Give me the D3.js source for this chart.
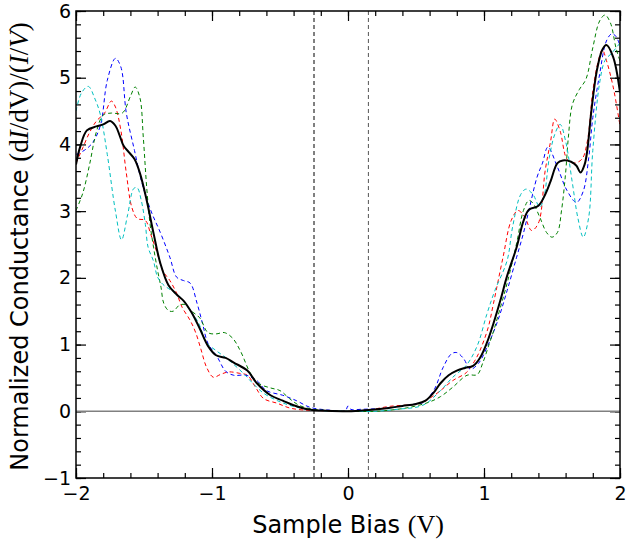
<!DOCTYPE html>
<html>
<head>
<meta charset="utf-8">
<script src="https://d3js.org/d3.v7.min.js"></script>
<style>
  body { margin: 0; background: #fff; }
  svg { display: block; }
</style>
</head>
<body>
<div id="chart"></div>
<script>
// ===========================================
// Data: [sample bias (V), normalized conductance]
var avgCurve = [[-2.0,3.70],[-1.97,3.96],[-1.92,4.21],[-1.85,4.27],[-1.80,4.30],[-1.75,4.35],[-1.71,4.28],[-1.68,4.14],
  [-1.65,3.98],[-1.61,3.88],[-1.57,3.78],[-1.53,3.57],[-1.48,3.16],[-1.43,2.67],[-1.38,2.22],[-1.32,1.89],[-1.26,1.75],[-1.21,1.66],[-1.15,1.48],
  [-1.09,1.24],[-1.03,0.98],[-0.97,0.84],[-0.90,0.80],[-0.84,0.73],[-0.74,0.61],[-0.67,0.42],[-0.57,0.24],[-0.48,0.16],
  [-0.40,0.09],[-0.30,0.03],[-0.20,0.01],[0.0,0.0],[0.15,0.02],[0.30,0.05],[0.40,0.08],[0.50,0.11],[0.57,0.16],[0.63,0.28],
  [0.68,0.42],[0.74,0.54],[0.80,0.61],[0.86,0.65],[0.92,0.68],[0.97,0.80],[1.02,1.02],[1.07,1.32],[1.12,1.66],[1.17,2.03],
  [1.24,2.46],[1.29,2.85],[1.33,3.02],[1.40,3.08],[1.45,3.25],[1.49,3.45],[1.54,3.72],[1.58,3.76],[1.64,3.74],[1.68,3.68],
  [1.71,3.58],[1.74,3.70],[1.76,3.92],[1.79,4.51],[1.83,5.11],[1.87,5.42],[1.90,5.49],[1.95,5.31],[2.0,4.78]];

var redCurve = [[-2.0,3.72],[-1.95,3.95],[-1.90,4.18],[-1.85,4.35],[-1.79,4.47],[-1.74,4.65],[-1.71,4.56],[-1.67,4.21],
  [-1.63,3.57],[-1.59,3.06],[-1.55,2.89],[-1.49,2.86],[-1.45,2.65],[-1.40,2.35],[-1.36,2.10],[-1.31,1.96],[-1.26,1.77],
  [-1.22,1.56],[-1.16,1.36],[-1.12,1.18],[-1.08,0.92],[-1.04,0.66],[-0.99,0.51],[-0.94,0.55],[-0.88,0.59],[-0.80,0.57],
  [-0.74,0.54],[-0.68,0.36],[-0.62,0.19],[-0.52,0.12],[-0.43,0.05],[-0.33,0.02],[-0.20,0.01],[0.0,0.0],[0.15,0.02],
  [0.31,0.075],[0.53,0.12],[0.62,0.22],[0.68,0.31],[0.77,0.46],[0.87,0.58],[0.93,0.75],[0.97,0.91],[1.03,1.25],[1.07,1.62],
  [1.14,2.31],[1.20,2.86],[1.25,3.01],[1.30,2.91],[1.35,2.71],[1.40,2.82],[1.45,3.61],[1.49,4.05],[1.52,4.38],[1.56,4.20],
  [1.61,3.78],[1.66,3.72],[1.72,3.78],[1.76,4.05],[1.80,4.80],[1.84,5.25],[1.87,5.42],[1.90,5.26],[1.95,4.86],[2.0,4.28]];

var blueCurve = [[-2.0,3.85],[-1.94,3.91],[-1.88,4.02],[-1.82,4.29],[-1.77,4.96],[-1.71,5.29],[-1.67,5.16],[-1.63,4.47],
  [-1.57,3.91],[-1.52,3.46],[-1.45,3.01],[-1.38,2.68],[-1.31,2.31],[-1.26,2.01],[-1.21,1.96],[-1.16,1.92],[-1.11,1.62],
  [-1.07,1.32],[-1.03,1.02],[-0.96,0.81],[-0.90,0.60],[-0.84,0.54],[-0.75,0.54],[-0.67,0.46],[-0.60,0.31],[-0.48,0.24],
  [-0.38,0.16],[-0.28,0.06],[-0.15,0.02],[-0.02,0.01],[0.0,0.08],[0.02,0.03],[0.10,0.03],[0.30,0.05],[0.50,0.11],
  [0.55,0.13],[0.63,0.31],[0.70,0.66],[0.76,0.86],[0.80,0.88],[0.85,0.79],[0.90,0.63],[0.96,0.72],[1.02,0.95],[1.10,1.35],
  [1.17,1.81],[1.24,2.31],[1.29,2.67],[1.33,3.01],[1.39,3.51],[1.43,3.72],[1.47,3.96],[1.54,3.66],[1.61,3.31],[1.68,3.13],
  [1.73,3.30],[1.77,3.80],[1.80,4.40],[1.85,5.05],[1.90,5.55],[1.94,5.66],[1.97,5.62],[2.0,5.48]];

var greenCurve = [[-2.0,3.01],[-1.95,3.27],[-1.90,3.70],[-1.85,4.19],[-1.80,4.44],[-1.74,4.47],[-1.66,4.47],[-1.60,4.72],
  [-1.565,4.86],[-1.53,4.70],[-1.505,4.10],[-1.48,3.35],[-1.455,2.80],[-1.43,2.46],[-1.40,2.11],[-1.375,1.86],[-1.355,1.62],
  [-1.32,1.51],[-1.285,1.50],[-1.24,1.59],[-1.20,1.60],[-1.15,1.50],[-1.09,1.40],[-1.03,1.18],[-0.97,1.16],[-0.91,1.18],
  [-0.85,1.10],[-0.79,0.90],[-0.72,0.58],[-0.66,0.42],[-0.57,0.35],[-0.50,0.31],[-0.43,0.19],[-0.36,0.09],[-0.28,0.04],
  [-0.15,0.01],[0.0,0.0],[0.20,0.0],[0.40,0.04],[0.52,0.09],[0.60,0.14],[0.68,0.22],[0.77,0.36],[0.875,0.54],[0.95,0.55],
  [0.99,0.72],[1.04,1.02],[1.07,1.20],[1.10,1.41],[1.17,1.92],[1.24,2.52],[1.29,3.01],[1.33,3.16],[1.36,3.12],[1.41,2.91],
  [1.46,2.68],[1.50,2.61],[1.54,2.68],[1.57,3.01],[1.60,3.57],[1.62,4.10],[1.65,4.60],[1.70,4.82],[1.75,4.98],[1.80,5.45],
  [1.85,5.85],[1.89,5.94],[1.93,5.82],[1.97,5.45],[2.0,5.25]];

var cyanCurve = [[-2.0,4.50],[-1.96,4.77],[-1.91,4.87],[-1.86,4.68],[-1.82,4.44],[-1.77,3.85],[-1.71,3.00],[-1.665,2.57],
  [-1.62,2.95],[-1.575,3.34],[-1.55,3.35],[-1.52,3.16],[-1.49,2.80],[-1.47,2.46],[-1.43,2.25],[-1.40,2.01],[-1.36,1.90],
  [-1.32,1.84],[-1.26,1.76],[-1.21,1.66],[-1.16,1.51],[-1.10,1.33],[-1.04,1.03],[-0.97,0.91],[-0.89,0.79],[-0.77,0.57],
  [-0.70,0.42],[-0.62,0.27],[-0.52,0.16],[-0.43,0.09],[-0.33,0.04],[-0.20,0.01],[0.0,0.0],[0.20,0.0],[0.36,0.03],
  [0.55,0.09],[0.68,0.31],[0.77,0.51],[0.87,0.69],[0.95,0.98],[1.02,1.45],[1.08,1.81],[1.17,2.26],[1.21,2.76],[1.27,3.25],
  [1.31,3.33],[1.36,3.25],[1.41,3.06],[1.44,3.20],[1.48,3.80],[1.52,4.15],[1.56,4.30],[1.60,4.05],[1.65,3.42],[1.69,2.90],
  [1.73,2.61],[1.77,2.91],[1.80,3.91],[1.85,4.92],[1.89,5.26],[1.94,5.37],[2.0,5.52]];

var gapMarks = [-0.25, 0.15];          // vertical dashed lines (V)
var xTicks = [-2, -1, 0, 1, 2];
var yTicks = [-1, 0, 1, 2, 3, 4, 5, 6];

// ===========================================
// SVG & chart area
var svgWidth = 626, svgHeight = 545;
var margin = {top: 11, right: 6, bottom: 67, left: 76};
var chartWidth = svgWidth - margin.left - margin.right;
var chartHeight = svgHeight - margin.top - margin.bottom;

var svg = d3.select("#chart").append("svg")
    .attr("width", svgWidth)
    .attr("height", svgHeight);

var chartGroup = svg.append("g")
    .attr("transform", `translate(${margin.left},${margin.top})`);

var xscale = d3.scaleLinear().domain([-2, 2]).range([0, chartWidth]);
var yscale = d3.scaleLinear().domain([-1, 6]).range([chartHeight, 0]);

svg.append("defs").append("clipPath").attr("id", "clip")
  .append("rect").attr("width", chartWidth).attr("height", chartHeight);

var fmt = d => (d < 0 ? "\u2212" + Math.abs(d) : String(d));
var minorX = d3.range(-2, 2.001, 0.2).map(d => +d.toFixed(2));
var minorY = d3.range(-1, 6.001, 0.2).map(d => +d.toFixed(2));

function styleAxis(g) {
  g.select(".domain").remove();
  g.selectAll("line").attr("stroke", "#000").attr("stroke-width", 1.2);
  g.selectAll("text").attr("font-family", "DejaVu Sans").attr("font-size", "19px").attr("fill", "#000");
}

// minor ticks on all sides
chartGroup.append("g").attr("transform", `translate(0,${chartHeight})`)
  .call(d3.axisBottom(xscale).tickValues(minorX).tickSize(-5).tickFormat("")).call(styleAxis);
chartGroup.append("g")
  .call(d3.axisTop(xscale).tickValues(minorX).tickSize(-5).tickFormat("")).call(styleAxis);
chartGroup.append("g")
  .call(d3.axisLeft(yscale).tickValues(minorY).tickSize(-5).tickFormat("")).call(styleAxis);
chartGroup.append("g").attr("transform", `translate(${chartWidth},0)`)
  .call(d3.axisRight(yscale).tickValues(minorY).tickSize(-5).tickFormat("")).call(styleAxis);

// major ticks
chartGroup.append("g").attr("transform", `translate(0,${chartHeight})`)
  .call(d3.axisBottom(xscale).tickValues(xTicks).tickSize(-10).tickPadding(9).tickFormat(fmt)).call(styleAxis);
chartGroup.append("g")
  .call(d3.axisTop(xscale).tickValues(xTicks).tickSize(-10).tickFormat("")).call(styleAxis);
chartGroup.append("g")
  .call(d3.axisLeft(yscale).tickValues(yTicks).tickSize(-10).tickPadding(5).tickFormat(fmt)).call(styleAxis);
chartGroup.append("g").attr("transform", `translate(${chartWidth},0)`)
  .call(d3.axisRight(yscale).tickValues(yTicks).tickSize(-10).tickFormat("")).call(styleAxis);

// zero line
chartGroup.append("line")
  .attr("x1", 0).attr("x2", chartWidth)
  .attr("y1", yscale(0)).attr("y2", yscale(0))
  .attr("stroke", "#808080").attr("stroke-width", 1.5);

// dashed gap markers
chartGroup.selectAll(".gap").data(gapMarks).enter().append("line")
  .attr("class", "gap")
  .attr("x1", d => xscale(d)).attr("x2", d => xscale(d))
  .attr("y1", 0).attr("y2", chartHeight)
  .attr("stroke", (d, i) => i === 0 ? "#000" : "#555")
  .attr("stroke-width", 1)
  .attr("stroke-dasharray", "4,3");

// curves
var line = d3.line()
  .x(d => xscale(d[0]))
  .y(d => yscale(d[1]))
  .curve(d3.curveCatmullRom.alpha(0.5));

var dashed = [
  {data: redCurve, color: "#ff0000"},
  {data: blueCurve, color: "#0000ff"},
  {data: greenCurve, color: "#008000"},
  {data: cyanCurve, color: "#00bfbf"}
];

var curves = chartGroup.append("g").attr("clip-path", "url(#clip)");
dashed.forEach(function(s) {
  curves.append("path")
    .attr("d", line(s.data))
    .attr("fill", "none")
    .attr("stroke", s.color)
    .attr("stroke-width", 1)
    .attr("stroke-dasharray", "4,3");
});
curves.append("path")
  .attr("d", line(avgCurve))
  .attr("fill", "none")
  .attr("stroke", "#000")
  .attr("stroke-width", 2);

// frame
chartGroup.append("rect")
  .attr("width", chartWidth).attr("height", chartHeight)
  .attr("fill", "none").attr("stroke", "#000").attr("stroke-width", 1.5);

// axis labels
var xl = svg.append("text")
  .attr("x", margin.left + chartWidth / 2).attr("y", 533)
  .attr("text-anchor", "middle")
  .attr("font-family", "DejaVu Sans").attr("font-size", "24px");
xl.append("tspan").text("Sample Bias ");
xl.append("tspan").attr("font-family", "Liberation Serif").attr("font-size", "26px").text("(V)");

var yl = svg.append("text")
  .attr("transform", `translate(28,${margin.top + chartHeight / 2 + 2}) rotate(-90)`)
  .attr("text-anchor", "middle")
  .attr("font-family", "DejaVu Sans").attr("font-size", "24px");
yl.append("tspan").text("Normalized Conductance ");
var mathParts = [["(d", "normal"], ["I", "italic"], ["/dV)/(", "normal"], ["I", "italic"], ["/", "normal"], ["V", "italic"], [")", "normal"]];
mathParts.forEach(function(p) {
  yl.append("tspan")
    .attr("font-family", "Liberation Serif").attr("font-size", "27px")
    .attr("font-style", p[1])
    .text(p[0]);
});
</script>
</body>
</html>
